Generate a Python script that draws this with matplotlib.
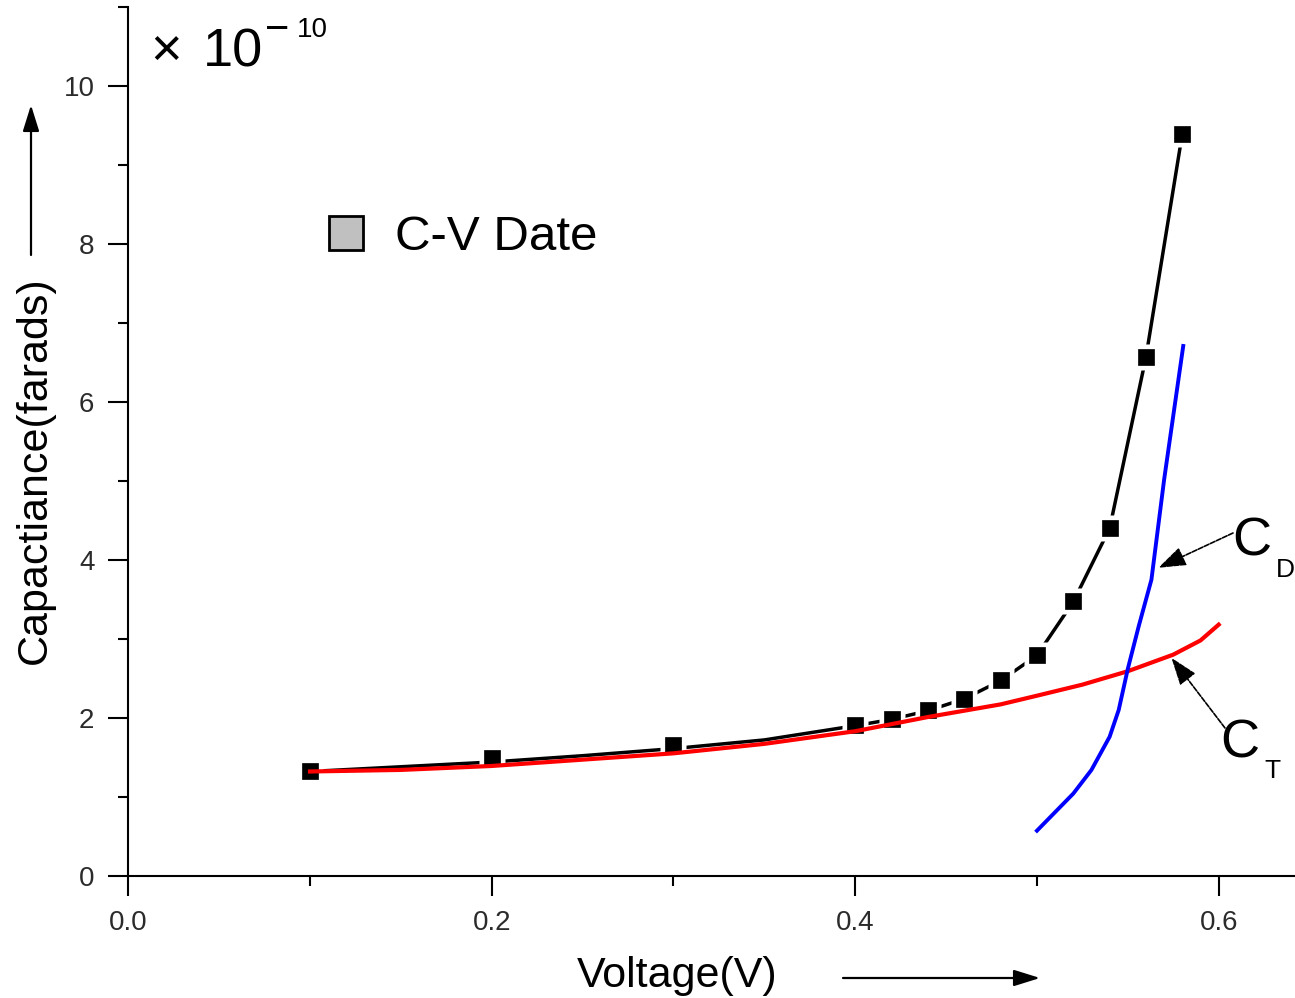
import numpy as np
import matplotlib
matplotlib.use('Agg')
import matplotlib.pyplot as plt
from matplotlib.lines import Line2D

plt.rcParams['font.family'] = ['Liberation Sans', 'DejaVu Sans']

W, H = 1295, 998  # output size in pixels (dpi 100)

# measured C-V points (black squares), capacitance in units of 1e-10 F
cv_voltage = [0.10, 0.20, 0.30, 0.40, 0.42, 0.44, 0.46, 0.48, 0.50, 0.52, 0.54, 0.56, 0.58]
cv_cap = [1.32, 1.49, 1.66, 1.91, 1.98, 2.10, 2.24, 2.48, 2.79, 3.48, 4.40, 6.57, 9.40]

# total fitted curve (black line)
fit_voltage = [0.10, 0.15, 0.20, 0.25, 0.30, 0.35, 0.40, 0.42, 0.44, 0.46, 0.48, 0.50, 0.52, 0.54, 0.56, 0.58]
fit_cap = [1.32, 1.38, 1.44, 1.52, 1.61, 1.72, 1.90, 1.98, 2.09, 2.24, 2.47, 2.79, 3.47, 4.40, 6.57, 9.40]

# transition capacitance C_T (red)
ct_voltage = [0.10, 0.15, 0.20, 0.25, 0.30, 0.35, 0.40, 0.44, 0.48, 0.50, 0.525, 0.55, 0.575, 0.59, 0.60]
ct_cap = [1.32, 1.34, 1.39, 1.47, 1.55, 1.67, 1.83, 2.01, 2.17, 2.28, 2.42, 2.59, 2.80, 2.98, 3.18]

# diffusion capacitance C_D (blue)
cd_voltage = [0.50, 0.52, 0.53, 0.54, 0.545, 0.55, 0.556, 0.563, 0.57, 0.5805]
cd_cap = [0.57, 1.04, 1.34, 1.76, 2.10, 2.62, 3.16, 3.75, 5.02, 6.71]

x_ticks = [0.0, 0.2, 0.4, 0.6]
x_tick_labels = ['0.0', '0.2', '0.4', '0.6']
y_ticks = [0, 2, 4, 6, 8, 10]


def fx(p):
    return p / W


def fy(p):
    return 1 - p / H


fig = plt.figure(figsize=(W / 100, H / 100), dpi=100)
ax = fig.add_axes([fx(128.3), fy(875.7), 1 - fx(128.3), (875.7 - 7.3) / H])

ax.plot(fit_voltage, fit_cap, color='black', lw=2.5, zorder=2)
# white halo round the squares gives the gap between line and symbol
ax.plot(cv_voltage, cv_cap, ls='none', marker='s', ms=18.5, mfc='white', mec='none', zorder=3)
ax.plot(cv_voltage, cv_cap, ls='none', marker='s', ms=11.3, mfc='black', mec='black', mew=0.5, zorder=4)
ax.plot(ct_voltage, ct_cap, color='#ff0000', lw=3.0, zorder=5)
ax.plot(cd_voltage, cd_cap, color='#0000ff', lw=2.8, zorder=5)

ax.set_xlim(0, 0.642)
ax.set_ylim(0, 11)
ax.set_xticks(x_ticks)
ax.set_xticklabels(x_tick_labels)
ax.set_xticks([0.1, 0.3, 0.5], minor=True)
ax.set_yticks(y_ticks)
ax.set_yticks([1, 3, 5, 7, 9, 11], minor=True)
for s in ['top', 'right']:
    ax.spines[s].set_visible(False)
for s in ['left', 'bottom']:
    ax.spines[s].set_linewidth(1.5)
ax.tick_params(which='major', direction='out', length=14.4, width=1.5,
               labelsize=20, pad=10, labelcolor='#2b2b2b')
ax.tick_params(which='minor', direction='out', length=7, width=1.5)

# legend
handle = Line2D([], [], ls='none', marker='s', ms=25, mfc='#c0c0c0', mec='black', mew=2)
ax.legend([handle], ['C-V Date'], loc='center left', frameon=False, fontsize=35.5,
          bbox_to_anchor=(fx(321.4), fy(238)), bbox_transform=fig.transFigure,
          borderpad=0, borderaxespad=0, handlelength=1.0, handletextpad=0.5)

# multiplier
fig.text(fx(150), fy(66.7), '\u00d7', fontsize=39, va='baseline', ha='left')
fig.text(fx(203), fy(66.7), '10', fontsize=39, va='baseline', ha='left')
fig.text(fx(265), fy(41), '\u2212', fontsize=30, va='baseline', ha='left')
fig.text(fx(297), fy(36.7), '10', fontsize=20, va='baseline', ha='left')

# axis labels with arrows
fig.text(fx(677.5), fy(986.7), 'Voltage(V)', fontsize=31, ha='center', va='baseline')
fig.text(fx(46), fy(470), 'Capactiance(farads)', fontsize=31, rotation=90,
         rotation_mode='anchor', ha='center', va='baseline')
arr = dict(arrowstyle='-|>,head_length=0.8,head_width=0.25', mutation_scale=20,
           color='black', lw=1.6, shrinkA=0, shrinkB=0)
ax.annotate('', xy=(31, H - 105), xycoords='figure pixels',
            xytext=(31, H - 255), textcoords='figure pixels',
            arrowprops=arr, annotation_clip=False)
ax.annotate('', xy=(1040, H - 978), xycoords='figure pixels',
            xytext=(843, H - 978), textcoords='figure pixels',
            arrowprops=arr, annotation_clip=False)

# C_D and C_T pointers
ptr = dict(arrowstyle='-|>,head_length=0.85,head_width=0.3', mutation_scale=20,
           color='black', lw=1.2, linestyle=(0, (3, 1)), shrinkA=0, shrinkB=0)
ax.annotate('', xy=(0.5668, 3.90), xycoords='data',
            xytext=(1233, H - 533), textcoords='figure pixels',
            arrowprops=ptr, annotation_clip=False, zorder=6)
ax.annotate('', xy=(0.574, 2.76), xycoords='data',
            xytext=(1225, H - 728), textcoords='figure pixels',
            arrowprops=ptr, annotation_clip=False, zorder=6)
fig.text(fx(1232.5), fy(555), 'C', fontsize=39, va='baseline', ha='left')
fig.text(fx(1276), fy(576.7), 'D', fontsize=19, va='baseline', ha='left')
fig.text(fx(1220.5), fy(758), 'C', fontsize=39, va='baseline', ha='left')
fig.text(fx(1264), fy(778), 'T', fontsize=19, va='baseline', ha='left')

fig.savefig('out.png', dpi=100)
